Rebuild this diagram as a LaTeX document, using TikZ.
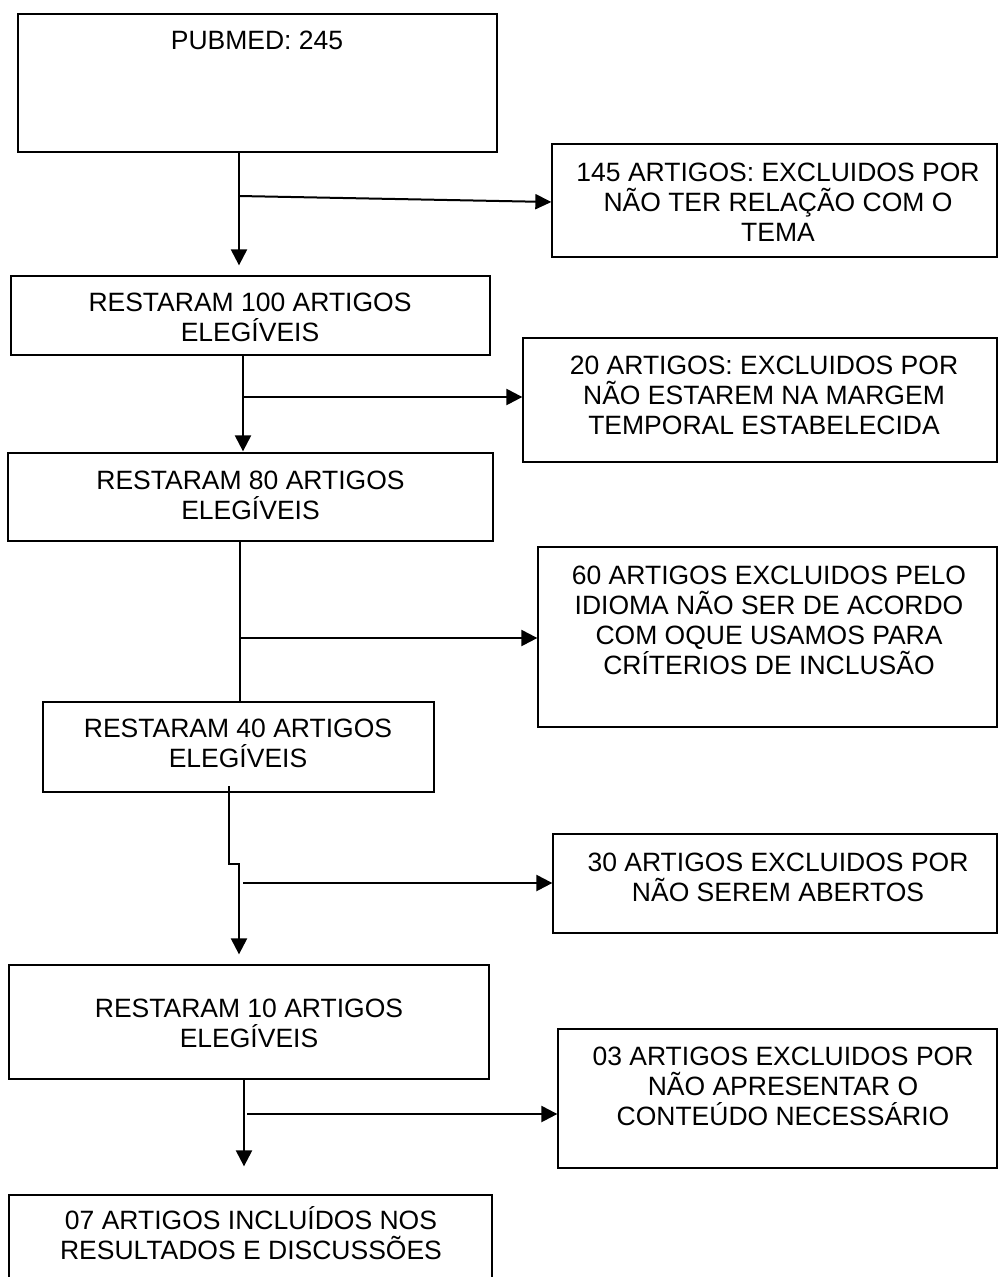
\documentclass[tikz,border=0pt]{standalone}
\usepackage{fontspec}
\setmainfont{Liberation Sans}
\usetikzlibrary{arrows.meta}
\begin{document}
\begin{tikzpicture}[x=1pt,y=-1pt,
  box/.style={draw=black,line width=1.3pt,rectangle,inner sep=0pt},
  txt/.style={inner sep=0pt,align=center,anchor=south,font=\fontsize{26.5}{30}\selectfont},
  conn/.style={line width=2.3pt},
  arr/.style={line width=2.3pt,-{Triangle[length=16pt,width=16pt]}}]
\useasboundingbox (0,0) rectangle (998,1277);
\clip (0,0) rectangle (998,1277);
% boxes
\node[box,minimum width=479pt,minimum height=138pt] (b1) at (257.5,83) {};
\node[box,minimum width=479pt,minimum height=79pt] (b100) at (250.5,315.5) {};
\node[box,minimum width=445pt,minimum height=113pt] (e145) at (774.5,200.5) {};
\node[box,minimum width=474pt,minimum height=124pt] (e20) at (760,400) {};
\node[box,minimum width=485pt,minimum height=88pt] (b80) at (250.5,497) {};
\node[box,minimum width=459pt,minimum height=180pt] (e60) at (767.5,637) {};
\node[box,minimum width=391pt,minimum height=90pt] (b40) at (238.5,747) {};
\node[box,minimum width=444pt,minimum height=99pt] (e30) at (775,883.5) {};
\node[box,minimum width=480pt,minimum height=114pt] (b10) at (249,1022) {};
\node[box,minimum width=439pt,minimum height=139pt] (e03) at (777.5,1098.5) {};
\node[box,minimum width=483pt,minimum height=95pt] (b07) at (250.5,1242.5) {};
% texts
\node[txt] (t1) at (257,49.5) {PUBMED: 245};
\node[txt] (t100) at (250,341.5) {RESTARAM 100 ARTIGOS\\ELEGÍVEIS};
\node[txt] (t145) at (778,241.5) {145 ARTIGOS: EXCLUIDOS POR\\NÃO TER RELAÇÃO COM O\\TEMA};
\node[txt] (t20) at (764,434.5) {20 ARTIGOS: EXCLUIDOS POR\\NÃO ESTAREM NA MARGEM\\TEMPORAL ESTABELECIDA};
\node[txt] (t80) at (250.5,519.5) {RESTARAM 80 ARTIGOS\\ELEGÍVEIS};
\node[txt] (t60) at (769,674.5) {60 ARTIGOS EXCLUIDOS PELO\\IDIOMA NÃO SER DE ACORDO\\COM OQUE USAMOS PARA\\CRÍTERIOS DE INCLUSÃO};
\node[txt] (t40) at (238,767.5) {RESTARAM 40 ARTIGOS\\ELEGÍVEIS};
\node[txt] (t30) at (778,901.5) {30 ARTIGOS EXCLUIDOS POR\\NÃO SEREM ABERTOS};
\node[txt] (t10) at (249,1047.5) {RESTARAM 10 ARTIGOS\\ELEGÍVEIS};
\node[txt] (t03) at (783,1125.5) {03 ARTIGOS EXCLUIDOS POR\\NÃO APRESENTAR O\\CONTEÚDO NECESSÁRIO};
\node[txt] (t07) at (251,1259.5) {07 ARTIGOS INCLUÍDOS NOS\\RESULTADOS E DISCUSSÕES};
% helper coordinates
\coordinate (x1) at (239,0);
\coordinate (br1) at (239,196);
\coordinate (x2) at (243,0);
\coordinate (br2) at (243,397);
\coordinate (x3) at (240,0);
\coordinate (br3) at (240,638);
\coordinate (s4) at (229,786);
\coordinate (k4a) at (229,864);
\coordinate (k4b) at (239,864);
\coordinate (br4) at (243,883);
\coordinate (x5) at (244,0);
\coordinate (br5) at (247,1114);
% connectors
\draw[arr,shorten >=10pt] (b1.south -| x1) -- (b100.north -| x1);
\draw[conn,line width=2pt,-{Triangle[length=16pt,width=15pt]}] (br1) -- ([yshift=-1.5pt]e145.west);
\draw[arr,shorten >=1pt] (b100.south -| x2) -- (b80.north -| x2);
\draw[arr] (br2) -- (br2 -| e20.west);
\draw[conn] (b80.south -| x3) -- (b40.north -| x3);
\draw[arr] (br3) -- (br3 -| e60.west);
\draw[arr,shorten >=10pt] (s4) -- (k4a) -- (k4b) -- (b10.north -| k4b);
\draw[arr] (br4) -- (br4 -| e30.west);
\draw[arr,shorten >=28pt] (b10.south -| x5) -- (b07.north -| x5);
\draw[arr] (br5) -- (br5 -| e03.west);
\end{tikzpicture}
\end{document}
